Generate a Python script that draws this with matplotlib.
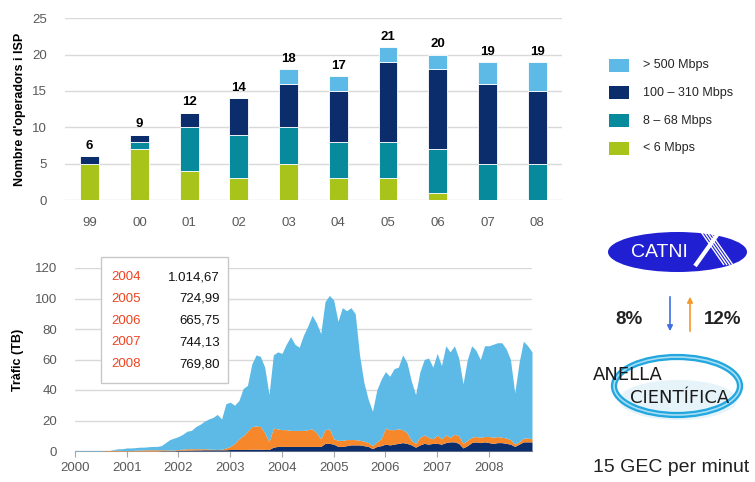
import matplotlib.pyplot as plt
import numpy as np
from matplotlib.patches import Ellipse, Rectangle

plt.rcParams['font.family'] = ['Liberation Sans', 'DejaVu Sans']

# --- top chart: operators / ISP by link speed
bar_years = ['99', '00', '01', '02', '03', '04', '05', '06', '07', '08']
lt_6 = [5, 7, 4, 3, 5, 3, 3, 1, 0, 0]
mb_8_68 = [0, 1, 6, 6, 5, 5, 5, 6, 5, 5]
mb_100_310 = [1, 1, 2, 5, 6, 7, 11, 11, 11, 10]
gt_500 = [0, 0, 0, 0, 2, 2, 2, 2, 3, 4]
bar_totals = [6, 9, 12, 14, 18, 17, 21, 20, 19, 19]
legend_labels = ['> 500 Mbps', '100 \u2013 310 Mbps', '8 \u2013 68 Mbps', '< 6 Mbps']

# --- bottom chart: monthly traffic (TB), stacked tops, Jan 2000 ..
navy_top = [0, 0, 0, 0, 0, 0, 0, 0, 0, 0, 0, 0,
            0, 0, 0, 0, 0, 0, 0, 0, 0.2, 0.2, 0.2, 0.2,
            0.5, 0.5, 0.6, 0.6, 0.7, 0.7, 0.8, 0.8, 0.8, 0.8, 0.8, 0.8,
            1.0, 1.0, 1.0, 1.0, 1.0, 1.2, 1.2, 1.2, 1.0, 1.0, 2.5, 3.0,
            3, 3, 3, 3, 3, 3, 3, 3, 3, 3, 5, 5,
            4.5, 3, 3, 3.5, 4, 4, 4, 3.5, 3, 1.5, 3, 3.5,
            4.5, 4, 4.5, 5, 5.5, 5, 4, 2.5, 4, 5, 4.5, 5,
            5, 4.5, 5.5, 6, 6, 5, 2, 3.5, 5.5, 6, 5.5, 6,
            5.5, 5, 5.5, 5.5, 5, 4.5, 3, 4.5, 6, 6, 6]
orange_top = [0, 0, 0, 0, 0, 0, 0, 0.3, 0.3, 0.5, 0.5, 0.3,
              0.3, 0.3, 0.5, 0.6, 0.7, 0.8, 0.8, 0.8, 0.8, 0.8, 0.6, 0.6,
              1.0, 1.2, 1.5, 1.5, 1.5, 1.5, 1.5, 1.3, 1.2, 1.0, 1.2, 2.0,
              3, 5, 8, 10, 13, 16, 16.5, 16, 12, 6, 15, 14.5,
              14, 14, 13.5, 13.5, 13.5, 13.5, 14, 14.5, 12, 8, 14, 14.5,
              8, 7, 7, 7.5, 7.5, 7.5, 7, 6.5, 5.5, 3.5, 6, 8,
              15, 14, 14, 14.5, 14, 12, 7, 5, 9, 10.5, 9, 8,
              10.5, 8, 10.5, 9, 11, 10, 5, 7, 9, 9.5, 9, 9.5,
              9.5, 9, 9.5, 9, 8.5, 7.5, 4.5, 6, 8.5, 8.5, 8]
total_top = [0.3, 0.3, 0.3, 0.3, 0.3, 0.3, 0.3, 0.3, 0.3, 1.0, 1.5, 1.5,
             2.0, 2.0, 2.2, 2.5, 2.5, 2.8, 3.0, 3.0, 3.5, 5.5, 7.5, 8.5,
             9.5, 11, 13, 13.5, 16, 17.5, 19.5, 21, 22, 24, 21, 31,
             32, 30, 33, 41, 43, 57, 63, 62, 55, 37, 63, 65,
             64, 70, 75, 70, 68, 76, 82, 89, 84, 77, 98, 102,
             99, 85, 94, 92, 94, 90, 63, 45, 34, 26, 40, 47,
             52, 49, 54, 55, 63, 58, 46, 37, 52, 60, 61, 55,
             64, 56, 69, 65, 69, 61, 44, 60, 69, 66, 60, 69,
             69, 70, 71, 71, 67, 60, 38, 58, 72, 69, 65]
axis_years = [2000, 2001, 2002, 2003, 2004, 2005, 2006, 2007, 2008]

table_years = ['2004', '2005', '2006', '2007', '2008']
table_values = ['1.014,67', '724,99', '665,75', '744,13', '769,80']

c_light = '#5DB9E5'
c_navy = '#0C2D6B'
c_teal = '#078A9C'
c_green = '#A8C41A'
c_orange = '#F6882B'
c_tick = '#595959'
c_grid = '#D9D9D9'

W, H = 755, 482
fig = plt.figure(figsize=(W / 100, H / 100), dpi=100)

# ---------------- top bar chart
ax1 = fig.add_axes([64.8 / W, 1 - 200 / H, (562 - 64.8) / W, (200 - 18.3) / H])
x = np.arange(len(bar_years))
bw = 0.38
b0 = np.zeros(len(x))
for vals, col in [(lt_6, c_green), (mb_8_68, c_teal), (mb_100_310, c_navy), (gt_500, c_light)]:
    ax1.bar(x, vals, bw, bottom=b0, color=col, edgecolor='white', linewidth=0.6, zorder=3)
    b0 = b0 + np.array(vals)
for xi, t in zip(x, bar_totals):
    ax1.text(xi, t + 0.6, str(t), ha='center', va='bottom', fontsize=9.5, fontweight='bold')
ax1.set_xlim(-0.5, 9.5)
ax1.set_ylim(0, 25)
ax1.set_yticks(range(0, 26, 5))
ax1.set_xticks(x)
ax1.set_xticklabels(bar_years)
ax1.yaxis.grid(True, color=c_grid, linewidth=1)
ax1.set_axisbelow(True)
for s in ax1.spines.values():
    s.set_visible(False)
ax1.tick_params(length=0, labelsize=9.5, labelcolor=c_tick)
ax1.tick_params(axis='x', pad=12)
ax1.tick_params(axis='y', pad=13)
ax1.set_ylabel("Nombre d'operadors i ISP", fontsize=9, fontweight='bold', labelpad=4)

# ---------------- bottom area chart
ax2 = fig.add_axes([75 / W, 1 - 451 / H, (532 - 75) / W, (451 - 268) / H])
t = 2000 + np.arange(len(total_top)) / 12
ax2.fill_between(t, 0, navy_top, color=c_navy, linewidth=0, zorder=3)
ax2.fill_between(t, navy_top, orange_top, color=c_orange, linewidth=0, zorder=3)
ax2.fill_between(t, orange_top, total_top, color=c_light, linewidth=0, zorder=3)
ax2.set_xlim(t[0], t[-1])
ax2.set_ylim(0, 120)
ax2.set_yticks(range(0, 121, 20))
ax2.set_xticks(axis_years)
ax2.yaxis.grid(True, color=c_grid, linewidth=1)
ax2.set_axisbelow(True)
for s in ['top', 'right', 'left']:
    ax2.spines[s].set_visible(False)
ax2.spines['bottom'].set_color('#A6A6A6')
ax2.tick_params(axis='y', length=0, labelsize=9.5, labelcolor=c_tick, pad=13)
ax2.tick_params(axis='x', length=4, color='#A6A6A6', labelsize=9.5, labelcolor=c_tick, pad=4)
ax2.set_ylabel('Tr\u00e0fic (TB)', fontsize=9, fontweight='bold', labelpad=8)

# ---------------- overlay in pixel coordinates
ov = fig.add_axes([0, 0, 1, 1])
ov.set_xlim(0, W)
ov.set_ylim(H, 0)
ov.axis('off')

# inset table
ov.add_patch(Rectangle((101, 257), 127, 126, facecolor='white', edgecolor='#C8C8C8', linewidth=1))
for i, (yr, v) in enumerate(zip(table_years, table_values)):
    yy = 277 + 21.8 * i
    ov.text(111, yy, yr, color='#EE4320', fontsize=9.5, ha='left', va='center')
    ov.text(220, yy, v, color='#111111', fontsize=9.5, ha='right', va='center')

# legend for the bar chart
leg_cols = [c_light, c_navy, c_teal, c_green]
for i, (lab, col) in enumerate(zip(legend_labels, leg_cols)):
    yy = 65 + 27.8 * i
    ov.add_patch(Rectangle((609, yy - 6.5), 20, 13, facecolor=col, edgecolor='none'))
    ov.text(643, yy, lab, fontsize=9, color='#262626', ha='left', va='center')

# CATNIX logo
ov.add_patch(Ellipse((677.5, 252), 139, 40, facecolor='#2020D2', edgecolor='none'))
ov.text(659, 252.5, 'CATNI', color='white', fontsize=14, ha='center', va='center')
ov.plot([722, 695], [228, 266], color='white', linewidth=3, solid_capstyle='butt')
for k in range(4):
    ov.plot([699 + 3 * k, 724 + 3 * k], [229, 265], color='white', linewidth=1, solid_capstyle='butt')

# arrows and shares
ov.annotate('', xy=(670, 334), xytext=(670, 294),
            arrowprops=dict(arrowstyle='-|>', color='#3F6FE0', lw=1.2, mutation_scale=8))
ov.annotate('', xy=(690, 294), xytext=(690, 334),
            arrowprops=dict(arrowstyle='-|>', color='#F39A2C', lw=1.2, mutation_scale=8))
ov.text(629, 320, '8%', fontsize=13.5, fontweight='bold', ha='center', va='center', color='#222222')
ov.text(723, 320, '12%', fontsize=13.5, fontweight='bold', ha='center', va='center', color='#222222')

# Anella Cientifica logo
ov.add_patch(Ellipse((678, 400), 118, 40, facecolor='#E6F4FA', edgecolor='none'))
ov.add_patch(Ellipse((677, 386), 126, 58, facecolor='none', edgecolor='#23A7DF', linewidth=4.5))
ov.add_patch(Ellipse((677, 386), 126, 58, facecolor='none', edgecolor='#A8DDF4', linewidth=1.2))
ov.text(593, 375, 'ANELLA', fontsize=13, color='#1A1A1A', ha='left', va='center', family='DejaVu Sans')
ov.text(630, 398, 'CIENT\u00cdFICA', fontsize=13, color='#1A1A1A', ha='left', va='center', family='DejaVu Sans')

ov.text(671, 467, '15 GEC per minut', fontsize=14, color='#222222', ha='center', va='center')

fig.savefig('out.png', dpi=100)
